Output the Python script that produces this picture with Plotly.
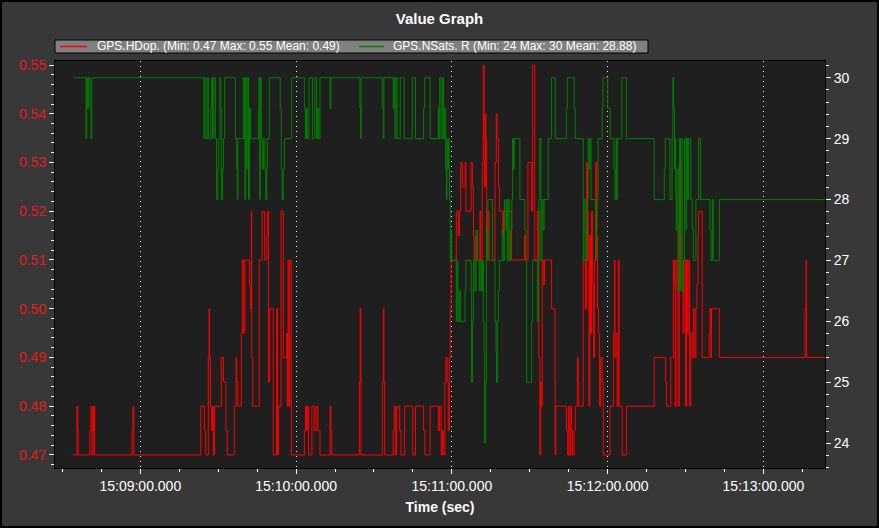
import pandas as pd
import plotly.graph_objects as go

# ---- data: (seconds after 15:08:00, value) samples, step-wise ----
HDOP_SAMPLES = [
    (34.2,0.47),(35.6,0.48),(35.9,0.475),(36.1,0.47),
    (40.6,0.475),(41.0,0.48),(41.4,0.47),(41.8,0.48),(42.0,0.475),(42.2,0.48),(42.4,0.47),
    (56.8,0.475),(57.2,0.48),(57.5,0.47),
    (83.3,0.48),(84.7,0.475),(85.2,0.47),(86.2,0.49),(86.5,0.50),(86.7,0.49),(87.0,0.48),(87.5,0.475),(87.8,0.48),
    (88.1,0.47),(88.6,0.48),(91.2,0.49),(92.0,0.485),(93.0,0.475),(93.5,0.47),
    (96.2,0.48),(96.9,0.49),(97.1,0.485),(97.6,0.48),(98.9,0.495),(99.3,0.51),(99.7,0.495),(100.3,0.51),
    (102.0,0.505),(102.4,0.50),(102.8,0.52),(102.9,0.49),(103.3,0.48),(105.8,0.51),(106.9,0.52),(107.8,0.51),
    (108.7,0.515),(108.9,0.52),(109.4,0.485),(109.8,0.50),(111.2,0.47),(112.5,0.50),(112.9,0.47),(113.2,0.48),
    (114.2,0.52),(115.1,0.49),(116.4,0.495),(116.6,0.48),(116.9,0.51),(117.3,0.48),(117.5,0.51),(118.2,0.47),
    (123.2,0.475),(123.6,0.48),(124.0,0.475),(124.3,0.48),(124.8,0.47),(126.1,0.48),(127.0,0.475),(127.7,0.48),
    (128.4,0.475),(129.2,0.47),(133.1,0.48),(133.4,0.475),(133.7,0.47),(144.4,0.485),(144.7,0.50),(145.0,0.47),
    (153.2,0.485),(153.6,0.50),(153.8,0.485),(154.1,0.47),(157.4,0.475),(157.8,0.48),(158.2,0.47),(158.7,0.48),
    (159.9,0.475),(160.4,0.47),(161.8,0.48),(164.9,0.47),(166.0,0.48),(169.1,0.475),(169.6,0.47),(171.6,0.48),
    (174.8,0.475),(175.3,0.48),(175.9,0.47),(176.3,0.475),(176.7,0.47),(177.3,0.485),(177.7,0.49),(178.2,0.485),
    (178.6,0.475),(179.0,0.49),(179.4,0.50),(179.7,0.51),(181.7,0.52),(182.5,0.515),(182.9,0.52),(183.4,0.53),
    (184.0,0.525),(185.1,0.53),(185.4,0.52),(187.4,0.53),(187.9,0.525),(188.3,0.515),(188.6,0.51),(189.3,0.515),
    (189.7,0.51),(190.8,0.52),(191.1,0.51),(191.7,0.53),(192.1,0.55),(192.4,0.53),(192.6,0.525),(192.9,0.54),
    (193.1,0.535),(193.4,0.51),(193.8,0.52),(194.3,0.51),(196.6,0.53),(197.1,0.54),(197.4,0.535),(197.9,0.525),
    (198.3,0.52),(199.6,0.515),(199.9,0.52),(203.0,0.51),(207.9,0.515),(208.4,0.51),(209.3,0.53),(210.6,0.52),
    (211.1,0.55),(211.9,0.51),(212.9,0.52),(213.5,0.49),(213.9,0.47),(214.2,0.485),(214.4,0.48),(214.8,0.51),
    (215.2,0.505),(215.7,0.51),(218.4,0.50),(219.7,0.485),(219.8,0.47),(220.0,0.48),(224.1,0.475),(224.6,0.47),
    (225.0,0.48),(225.2,0.475),(225.5,0.47),(225.9,0.48),(226.1,0.475),(226.5,0.47),(227.1,0.475),(227.5,0.48),
    (228.3,0.49),(228.6,0.485),(228.9,0.48),(230.6,0.51),(231.4,0.50),(231.9,0.53),(232.2,0.52),(232.5,0.51),
    (232.8,0.48),(233.1,0.515),(233.4,0.495),(233.8,0.52),(234.2,0.505),(234.6,0.49),(235.0,0.51),(235.4,0.53),
    (235.8,0.515),(236.1,0.50),(236.5,0.495),(236.9,0.48),(237.3,0.49),(237.9,0.485),(238.3,0.47),(240.9,0.48),
    (242.2,0.495),(242.6,0.51),(242.8,0.49),(243.2,0.495),(243.6,0.48),(244.1,0.51),(244.4,0.48),(245.6,0.47),
    (247.2,0.48),(257.9,0.49),(262.3,0.485),(262.7,0.48),(264.3,0.49),(265.3,0.51),(265.7,0.505),(266.0,0.48),
    (266.3,0.51),(266.7,0.505),(267.1,0.48),(267.6,0.53),(268.2,0.515),(268.6,0.51),(269.0,0.495),(269.4,0.51),
    (270.0,0.48),(270.4,0.51),(270.8,0.495),(271.3,0.51),(271.6,0.48),(272.0,0.495),(272.5,0.49),(273.0,0.50),
    (273.6,0.49),(274.0,0.50),(274.4,0.505),(274.8,0.515),(275.0,0.52),(276.4,0.49),(279.1,0.495),(279.4,0.50),
    (279.8,0.49),(280.0,0.50),(283.0,0.49),(316.0,0.50),(316.4,0.51),(316.6,0.49),(323.7,0.49),
]

NSATS_SAMPLES = [
    (34.2,30),(39.1,29),(39.35,30),(39.6,29.5),(40.0,30),(40.6,29.5),(41.0,29),(41.3,30),
    (84.5,29),(84.9,30),(85.3,29),(86.0,30),(86.2,29),(87.2,29.5),(87.5,30),(87.8,29),(88.3,30),
    (88.9,29),(89.4,28),(89.9,28.5),(90.2,29),(90.7,30),(90.95,29.5),(91.2,28),(91.7,28.5),(92.0,29),(92.5,30),
    (96.6,29),(97.1,28.5),(97.4,28),(97.6,29),(99.7,30),(100.1,29),(100.3,28),(100.6,30),(101.0,28.5),(101.4,30),
    (101.7,28),(102.1,29.5),(102.5,29),(105.5,29.5),(105.7,30),(106.0,28),(106.2,30),(106.6,29),(107.0,28.5),
    (107.4,29),(108.0,28.5),(108.3,28),(108.7,28.5),(108.9,29),(109.7,30),(113.9,29.5),(114.3,28.5),(114.6,28),
    (115.1,28.5),(115.5,29),(118.3,30),(123.2,29.5),(123.6,29),(124.0,29.5),(124.3,29),(125.0,30),(126.3,29),
    (127.2,30),(127.9,29),(128.3,29.5),(128.7,29),(129.2,30),(133.1,29.5),(133.4,30),(144.6,29.5),(144.9,29),(145.1,30),
    (153.2,29.5),(153.6,29),(153.8,30),(157.4,29.5),(157.8,30),(158.1,29),(158.5,30),(158.9,29),(160.1,30),(161.6,29),
    (164.8,30),(166.0,29),(169.1,29.5),(169.5,30),(171.6,29),(174.8,29.5),(175.0,29),(175.3,30),(175.8,29),(176.3,30),
    (176.8,29),(177.3,29.5),(177.6,28.5),(177.9,28),(178.1,29),(178.4,28.5),(178.6,29),(178.9,28.5),(179.1,28),
    (179.4,27),(179.6,27.5),(179.9,27),(181.7,26),(182.1,27),(182.3,26.5),(182.7,26),(183.1,26.5),(183.4,26),
    (185.1,26.5),(185.4,27),(187.4,26.5),(187.6,25),(187.9,26),(188.3,27),(188.9,26.5),(189.3,27.5),(189.9,27),
    (190.6,26.5),(190.9,27),(191.5,26.5),(191.8,27),(192.1,26),(192.4,25.5),(192.6,24),(193.0,25),(193.3,27.5),
    (193.6,27),(193.9,28),(195.6,27),(196.6,26),(197.0,25.5),(197.2,25),(197.5,26),(197.9,26.5),(198.3,27),
    (199.4,27.5),(199.8,27),(200.2,28),(200.4,27.5),(201.0,28),(201.3,27),(201.7,28),(202.1,27),(202.6,27.5),
    (203.1,28),(203.4,29),(203.8,28.5),(204.0,29),(206.2,28),(208.1,27.5),(208.5,27),(208.8,25),(210.7,26),
    (211.1,27),(212.9,26),(213.3,27),(213.5,28),(213.9,29),(214.3,27),(214.7,28),(215.1,27.5),(215.5,28),
    (217.1,29),(218.4,30),(219.8,29),(224.1,29.5),(224.5,30),(227.1,29.5),(227.5,29),(230.6,27),(230.9,28),
    (231.3,27.5),(231.6,27),(232.2,28),(232.5,29),(232.9,28.5),(233.2,29),(233.6,28),(235.4,27),(235.6,27.5),
    (235.9,28),(236.3,29),(237.9,29.5),(238.2,30),(240.0,29.5),(241.0,29),(242.4,28.5),(242.8,28),(243.2,29),
    (243.5,28),(243.7,29),(245.5,30),(247.2,29),(257.9,28),(261.8,28.5),(262.2,29),(264.0,28),(264.8,29),
    (265.1,30),(265.4,29.5),(265.7,28.5),(265.9,29),(266.2,28),(266.4,27.5),(266.7,28.5),(267.1,26.5),(267.3,27.5),
    (267.6,29),(268.0,26.5),(268.2,29),(268.7,26.5),(269.1,27),(269.6,29),(270.2,27.5),(270.4,29),(270.8,28),
    (271.1,29),(272.0,28),(272.6,27.5),(273.0,27),(274.0,28),(275.0,29),(275.8,28),(279.4,27.5),(279.8,27),
    (280.3,28),(280.7,27),(283.0,28),(323.7,28),
]

BASE_TIME = "2024-01-01 15:08:00"
X_RANGE_SEC = [27.15, 323.7]
SERIES_NAMES = ["GPS.HDop. (Min: 0.47 Max: 0.55 Mean: 0.49)",
                "GPS.NSats. R (Min: 24 Max: 30 Mean: 28.88)"]
SERIES_COLORS = ["#ff0000", "#008000"]
Y1_RANGE = [0.46733, 0.55082]
Y2_RANGE = [23.594, 30.274]

base = pd.Timestamp(BASE_TIME)
def to_time(secs):
    return [base + pd.Timedelta(seconds=s) for s in secs]

h_t, h_v = zip(*HDOP_SAMPLES)
n_t, n_v = zip(*NSATS_SAMPLES)

FONT = "Liberation Sans, Arial, sans-serif"

fig = go.Figure()
fig.add_trace(go.Scatter(x=to_time(h_t), y=list(h_v), name=SERIES_NAMES[0], mode="lines",
                         line=dict(color=SERIES_COLORS[0], width=1, shape="hv"), yaxis="y",
                         showlegend=False))
fig.add_trace(go.Scatter(x=to_time(n_t), y=list(n_v), name=SERIES_NAMES[1], mode="lines",
                         line=dict(color=SERIES_COLORS[1], width=1, shape="hv"), yaxis="y2",
                         showlegend=False))

L, R, T, B = 55, 54, 61, 60
W, H = 879, 528
pw, ph = W - L - R, H - T - B

def px_x(px):
    return (px - L) / pw

def px_y(py):
    return 1 + (T - py) / ph

fig.update_layout(
    width=W, height=H,
    margin=dict(l=L, r=R, t=T, b=B),
    paper_bgcolor="#383838",
    plot_bgcolor="#1f1f1f",
    font=dict(family=FONT, color="white"),
    title=dict(text="Value Graph", x=0.5, xanchor="center", y=1 - 19 / H, yanchor="middle",
               font=dict(size=15, color="white", weight="bold", family=FONT)),
    showlegend=False,
    hovermode=False,
    xaxis=dict(
        type="date",
        range=to_time(X_RANGE_SEC),
        tick0=base + pd.Timedelta(seconds=60), dtick=60000,
        tickformat="%H:%M:%S.%L",
        tickfont=dict(size=14, color="white", family=FONT),
        ticks="outside", ticklen=5, tickcolor="white", tickwidth=1,
        minor=dict(dtick=15000, ticks="outside", ticklen=3, tickcolor="white", showgrid=False),
        showgrid=True, gridcolor="white", griddash="1px,4px", gridwidth=1,
        showline=True, linecolor="black", linewidth=1, mirror=True,
        zeroline=False,
        title=dict(text="Time (sec)", font=dict(size=14, color="white", weight="bold", family=FONT),
                   standoff=9),
    ),
    yaxis=dict(
        range=Y1_RANGE, tick0=0.47, dtick=0.01, tickformat=".2f",
        tickfont=dict(size=14, color="#e8191c", family=FONT),
        ticks="outside", ticklen=5, tickcolor="white",
        minor=dict(dtick=0.002, ticks="outside", ticklen=3, tickcolor="white", showgrid=False),
        showgrid=False, zeroline=False,
        showline=True, linecolor="black", linewidth=1, mirror=True,
    ),
    yaxis2=dict(
        range=Y2_RANGE, tick0=24, dtick=1, overlaying="y", side="right",
        tickfont=dict(size=14, color="white", family=FONT),
        ticks="outside", ticklen=5, tickcolor="white",
        minor=dict(dtick=0.2, ticks="outside", ticklen=3, tickcolor="white", showgrid=False),
        showgrid=False, zeroline=False,
        showline=True, linecolor="black", linewidth=1,
    ),
)

# legend box drawn as shapes + text (matches the compact original legend)
LEG_BOX = (55, 40, 648, 53)          # left, top, right, bottom in px
LEG_ITEMS = [(60, 87, 95), (359, 384, 391)]  # line start, line end, text start in px
leg_mid = (LEG_BOX[1] + LEG_BOX[3]) / 2
fig.add_shape(type="rect", xref="paper", yref="paper",
              x0=px_x(LEG_BOX[0]), x1=px_x(LEG_BOX[2]), y0=px_y(LEG_BOX[3]), y1=px_y(LEG_BOX[1]),
              line=dict(color="black", width=1), fillcolor="#808080", layer="above")
for (x0, x1, xt), name, col in zip(LEG_ITEMS, SERIES_NAMES, SERIES_COLORS):
    fig.add_shape(type="line", xref="paper", yref="paper",
                  x0=px_x(x0), x1=px_x(x1), y0=px_y(leg_mid), y1=px_y(leg_mid),
                  line=dict(color=col, width=1.5), layer="above")
    fig.add_annotation(xref="paper", yref="paper", x=px_x(xt), y=px_y(leg_mid),
                       xanchor="left", yanchor="middle", text=name, showarrow=False,
                       font=dict(size=12, color="white", family=FONT))

# outer black frame of the whole picture
fig.add_shape(type="rect", xref="paper", yref="paper",
              x0=-(L - 1) / pw, x1=1 + (R - 1) / pw, y0=-(B - 1) / ph, y1=1 + (T - 1) / ph,
              line=dict(color="black", width=2), fillcolor="rgba(0,0,0,0)", layer="above")

fig.write_html("out.html")
